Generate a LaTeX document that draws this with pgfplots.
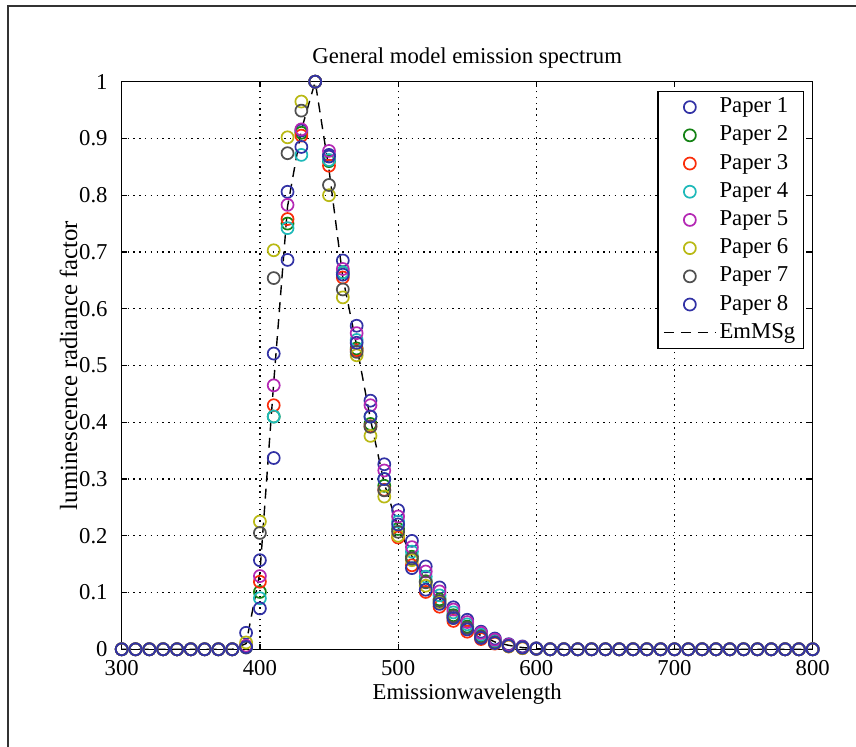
\documentclass[border=0pt]{standalone}
\usepackage{fontspec}
\setmainfont{Liberation Serif}
\usepackage{pgfplots}
\usepackage{pgfplotstable}
\pgfplotsset{compat=1.18}

\definecolor{cB}{RGB}{50,50,165}
\definecolor{cG}{RGB}{20,130,20}
\definecolor{cR}{RGB}{250,45,10}
\definecolor{cC}{RGB}{30,185,185}
\definecolor{cM}{RGB}{180,40,180}
\definecolor{cY}{RGB}{185,185,20}
\definecolor{cK}{RGB}{80,80,80}

\pgfplotstableread{
x p1 p2 p3 p4 p5 p6 p7 p8 em
300 0 0 0 0 0 0 0 0 0
310 0 0 0 0 0 0 0 0 0
320 0 0 0 0 0 0 0 0 0
330 0 0 0 0 0 0 0 0 0
340 0 0 0 0 0 0 0 0 0
350 0 0 0 0 0 0 0 0 0
360 0 0 0 0 0 0 0 0 0
370 0 0 0 0 0 0 0 0 0
380 0 0 0 0 0 0 0 0 0
390 0.029 0.005 0.006 0.004 0.006 0.012 0.003 0.004 0.010
400 0.157 0.101 0.119 0.090 0.129 0.225 0.205 0.072 0.135
410 0.521 0.410 0.430 0.410 0.465 0.703 0.654 0.337 0.470
420 0.806 0.750 0.758 0.742 0.783 0.902 0.874 0.686 0.780
430 0.914 0.910 0.905 0.871 0.916 0.965 0.949 0.885 0.915
440 1 1 1 1 1 1 1 1 1
450 0.871 0.860 0.852 0.862 0.878 0.800 0.818 0.868 0.845
460 0.685 0.664 0.655 0.664 0.670 0.620 0.634 0.660 0.655
470 0.570 0.530 0.527 0.545 0.557 0.518 0.524 0.540 0.535
480 0.438 0.397 0.393 0.410 0.430 0.376 0.392 0.410 0.405
490 0.326 0.288 0.281 0.300 0.315 0.269 0.280 0.300 0.292
500 0.245 0.212 0.197 0.225 0.234 0.200 0.207 0.220 0.215
510 0.191 0.163 0.148 0.172 0.180 0.157 0.160 0.143 0.164
520 0.146 0.120 0.101 0.128 0.137 0.112 0.118 0.105 0.121
530 0.109 0.088 0.075 0.095 0.102 0.082 0.085 0.080 0.089
540 0.074 0.060 0.050 0.065 0.070 0.055 0.058 0.055 0.061
550 0.052 0.040 0.031 0.044 0.048 0.036 0.038 0.035 0.040
560 0.031 0.024 0.018 0.026 0.029 0.021 0.022 0.020 0.024
570 0.019 0.013 0.010 0.015 0.017 0.011 0.012 0.011 0.013
580 0.009 0.006 0.005 0.007 0.008 0.005 0.006 0.006 0.007
590 0.005 0.003 0.002 0.003 0.004 0.002 0.003 0.003 0.003
600 0.002 0.001 0.001 0.001 0.001 0.001 0.001 0.001 0.001
610 0 0 0 0 0 0 0 0 0
620 0 0 0 0 0 0 0 0 0
630 0 0 0 0 0 0 0 0 0
640 0 0 0 0 0 0 0 0 0
650 0 0 0 0 0 0 0 0 0
660 0 0 0 0 0 0 0 0 0
670 0 0 0 0 0 0 0 0 0
680 0 0 0 0 0 0 0 0 0
690 0 0 0 0 0 0 0 0 0
700 0 0 0 0 0 0 0 0 0
710 0 0 0 0 0 0 0 0 0
720 0 0 0 0 0 0 0 0 0
730 0 0 0 0 0 0 0 0 0
740 0 0 0 0 0 0 0 0 0
750 0 0 0 0 0 0 0 0 0
760 0 0 0 0 0 0 0 0 0
770 0 0 0 0 0 0 0 0 0
780 0 0 0 0 0 0 0 0 0
790 0 0 0 0 0 0 0 0 0
800 0 0 0 0 0 0 0 0 0
}\spec

\begin{document}
\fontsize{11.35}{13.6}\selectfont
\begin{tikzpicture}
\useasboundingbox (0,0) rectangle (428pt,373.5pt);
\fill[white] (0,0) rectangle (428pt,373.5pt);
\draw[line width=1pt, black!80] (4pt,-10pt) -- (4pt,370.3pt) -- (440pt,370.3pt);
\begin{axis}[
  at={(60.85pt,48.85pt)}, anchor=south west,
  scale only axis, width=345.5pt, height=283.8pt,
  xmin=300, xmax=800, ymin=0, ymax=1,
  xtick={300,400,500,600,700,800},
  ytick={0,0.1,0.2,0.3,0.4,0.5,0.6,0.7,0.8,0.9,1},
  /pgf/number format/assume math mode=true,
  yticklabel style={/pgf/number format/fixed, /pgf/number format/precision=1, xshift=-3.1pt},
  xticklabel style={/pgf/number format/1000 sep={}, yshift=-1.8pt},
  tick align=inside, major tick length=2.5pt,
  tick style={black, line width=0.6pt},
  grid=major,
  major grid style={black, line width=0.6pt, dash pattern=on 0.7pt off 2.2pt},
  axis line style={black, line width=0.75pt},
  clip=false,
  every axis title shift=0pt,
  title={General model emission spectrum},
  title style={at={(axis description cs:0.5,1.0328)}, anchor=base, inner sep=0pt},
  xlabel={Emissionwavelength},
  xlabel style={at={(axis description cs:0.5,-0.0893)}, anchor=base, inner sep=0pt},
  ylabel={luminescence radiance factor},
  ylabel style={at={(axis description cs:-0.0645,0.5)}, anchor=base, rotate=0, inner sep=0pt, font=\fontsize{12.4}{14}\selectfont},
  legend cell align=left,
  legend image code/.code={\draw[mark repeat=2,mark phase=2] plot coordinates {(0pt,0pt) (13pt,0pt) (26pt,0pt)};},
  legend style={at={(axis description cs:1,1)}, anchor=north east, xshift=-4.35pt, yshift=-4.5pt,
    draw=black, line width=0.75pt, fill=white, inner xsep=2.5pt, inner ysep=0.8pt, row sep=0pt,
    nodes={inner xsep=1.5pt, inner ysep=1.8pt, text height=8pt, text depth=2.5pt}},
  every axis plot/.append style={only marks, mark=o, mark size=3pt, line width=0.85pt},
]
\addplot[cB] table[x=x,y=p1]{\spec};
\addlegendentry{Paper 1}
\addplot[cG] table[x=x,y=p2]{\spec};
\addlegendentry{Paper 2}
\addplot[cR] table[x=x,y=p3]{\spec};
\addlegendentry{Paper 3}
\addplot[cC] table[x=x,y=p4]{\spec};
\addlegendentry{Paper 4}
\addplot[cM] table[x=x,y=p5]{\spec};
\addlegendentry{Paper 5}
\addplot[cY] table[x=x,y=p6]{\spec};
\addlegendentry{Paper 6}
\addplot[cK] table[x=x,y=p7]{\spec};
\addlegendentry{Paper 7}
\addplot[cB] table[x=x,y=p8]{\spec};
\addlegendentry{Paper 8}
\addplot[black, sharp plot, no marks, mark=none, line width=0.7pt, dash pattern=on 5pt off 3.5pt] table[x=x,y=em]{\spec};
\addlegendentry{EmMSg}
\end{axis}
\end{tikzpicture}
\end{document}
